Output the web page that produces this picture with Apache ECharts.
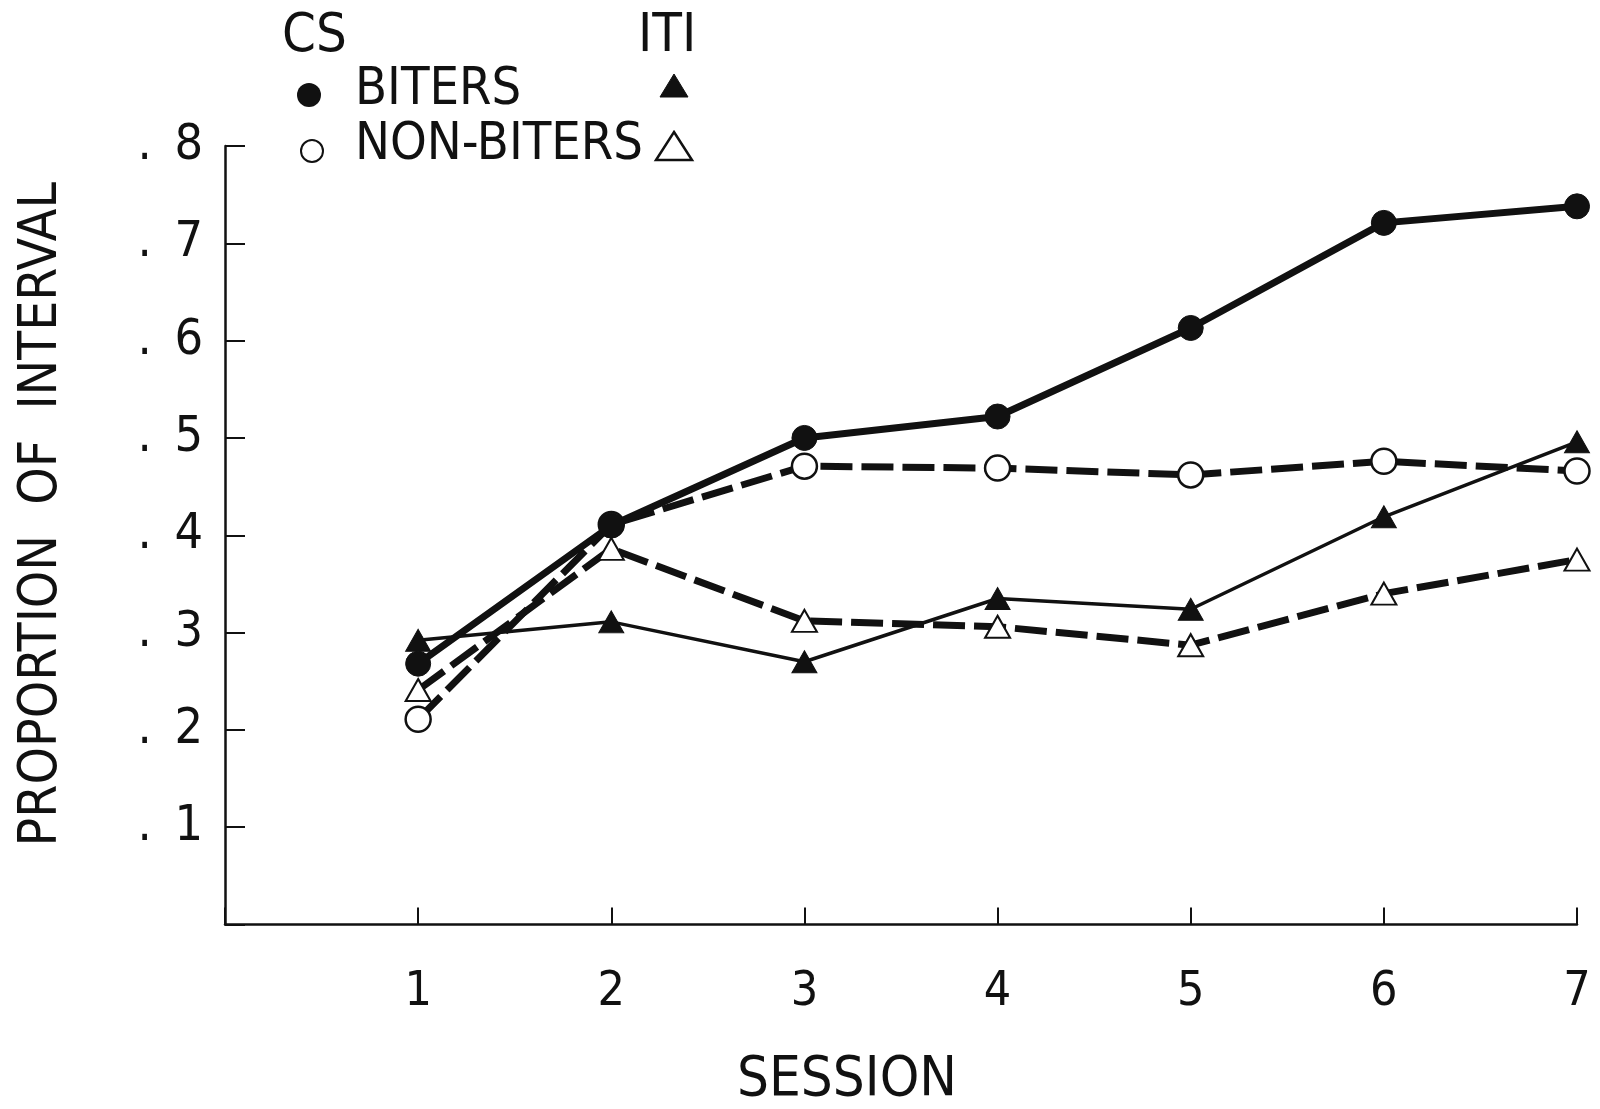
<!DOCTYPE html>
<html>
<head>
<meta charset="utf-8">
<script src="https://cdn.jsdelivr.net/npm/echarts@6/dist/echarts.min.js"></script>
<style>
html,body{margin:0;padding:0;background:#fff;}
#chart{width:1600px;height:1109px;}
</style>
</head>
<body>
<div id="chart"></div>
<script>
const sessions = [1, 2, 3, 4, 5, 6, 7];
const biterCS = [0.268, 0.410, 0.500, 0.522, 0.613, 0.721, 0.738];
const nonBiterCS = [0.211, 0.411, 0.471, 0.469, 0.462, 0.476, 0.466];
const biterITI = [0.292, 0.311, 0.270, 0.335, 0.324, 0.419, 0.496];
const nonBiterITI = [0.241, 0.386, 0.312, 0.306, 0.287, 0.340, 0.375];
const yTicks = ['.1', '.2', '.3', '.4', '.5', '.6', '.7', '.8'];
const xTicks = ['1', '2', '3', '4', '5', '6', '7'];

const FONT = '"Liberation Sans Narrow", "DejaVu Sans Condensed", "Liberation Sans", sans-serif';
const pairs = vals => sessions.map((s, i) => [s, vals[i]]);

const chart = echarts.init(document.getElementById('chart'), null, {renderer: 'canvas'});
chart.setOption({
  backgroundColor: '#ffffff',
  animation: false,
  grid: {left: 225, right: 23, top: 146, bottom: 184.5, containLabel: false, outerBoundsMode: 'none'},
  xAxis: {
    type: 'value', min: 0, max: 7, interval: 1,
    axisLine: {show: true, lineStyle: {color: '#111', width: 2.5}},
    axisTick: {show: true, inside: true, length: 17, lineStyle: {color: '#111', width: 2}},
    splitLine: {show: false},
    axisLabel: {
      margin: 44, color: '#111', fontFamily: FONT, fontSize: 48,
      formatter: v => (v >= 1 ? xTicks[Math.round(v) - 1] : '')
    },
    name: 'SESSION', nameLocation: 'middle', nameGap: 128,
    nameTextStyle: {color: '#111', fontFamily: FONT, fontSize: 56, padding: [0, 108, 0, 0]}
  },
  yAxis: {
    type: 'value', min: 0, max: 0.8, interval: 0.1,
    axisLine: {show: true, lineStyle: {color: '#111', width: 2.5}},
    axisTick: {show: true, inside: true, length: 20, lineStyle: {color: '#111', width: 2}},
    splitLine: {show: false},
    axisLabel: {
      margin: 22, color: '#111', fontFamily: FONT, fontSize: 50,
      formatter: v => { const k = Math.round(v * 10); return k >= 1 ? yTicks[k - 1].replace('.', '.\u2002') : ''; }
    },
    name: 'PROPORTION  OF  INTERVAL', nameLocation: 'middle', nameGap: 156, nameRotate: 90,
    nameTextStyle: {color: '#111', fontFamily: FONT, fontSize: 53, padding: [0, 0, 0, 42]}
  },
  series: [
    {
      name: 'ITI non-biters', type: 'line', data: pairs(nonBiterITI), z: 2,
      symbol: 'triangle', symbolSize: [25, 22],
      lineStyle: {color: '#111', width: 7, type: [32, 9]},
      itemStyle: {color: '#fff', borderColor: '#111', borderWidth: 2}
    },
    {
      name: 'ITI biters', type: 'line', data: pairs(biterITI), z: 3,
      symbol: 'triangle', symbolSize: [25, 22],
      lineStyle: {color: '#111', width: 3.5},
      itemStyle: {color: '#111', borderColor: '#111', borderWidth: 1}
    },
    {
      name: 'CS non-biters', type: 'line', data: pairs(nonBiterCS), z: 4,
      symbol: 'circle', symbolSize: 25,
      lineStyle: {color: '#111', width: 7, type: [32, 9]},
      itemStyle: {color: '#fff', borderColor: '#111', borderWidth: 2.5}
    },
    {
      name: 'CS biters', type: 'line', data: pairs(biterCS), z: 5,
      symbol: 'circle', symbolSize: 25,
      lineStyle: {color: '#111', width: 7},
      itemStyle: {color: '#111', borderColor: '#111', borderWidth: 1}
    }
  ],
  graphic: [
    {type: 'text', left: 282, top: 10, style: {text: 'CS', fill: '#111', font: '54px ' + FONT}},
    {type: 'text', left: 638, top: 10, style: {text: 'ITI', fill: '#111', font: '54px ' + FONT}},
    {type: 'circle', shape: {cx: 309, cy: 95, r: 12}, style: {fill: '#111'}},
    {type: 'text', left: 355, top: 64, style: {text: 'BITERS', fill: '#111', font: '52px ' + FONT}},
    {type: 'polygon', shape: {points: [[674, 74], [688, 97], [660, 97]]}, style: {fill: '#111', stroke: '#111', lineWidth: 1}},
    {type: 'circle', shape: {cx: 312, cy: 151, r: 11}, style: {fill: '#fff', stroke: '#111', lineWidth: 2}},
    {type: 'text', left: 355, top: 119, style: {text: 'NON-BITERS', fill: '#111', font: '52px ' + FONT}},
    {type: 'polygon', shape: {points: [[674, 132], [692, 160], [656, 160]]}, style: {fill: '#fff', stroke: '#111', lineWidth: 2.5}}
  ]
});
</script>
</body>
</html>
